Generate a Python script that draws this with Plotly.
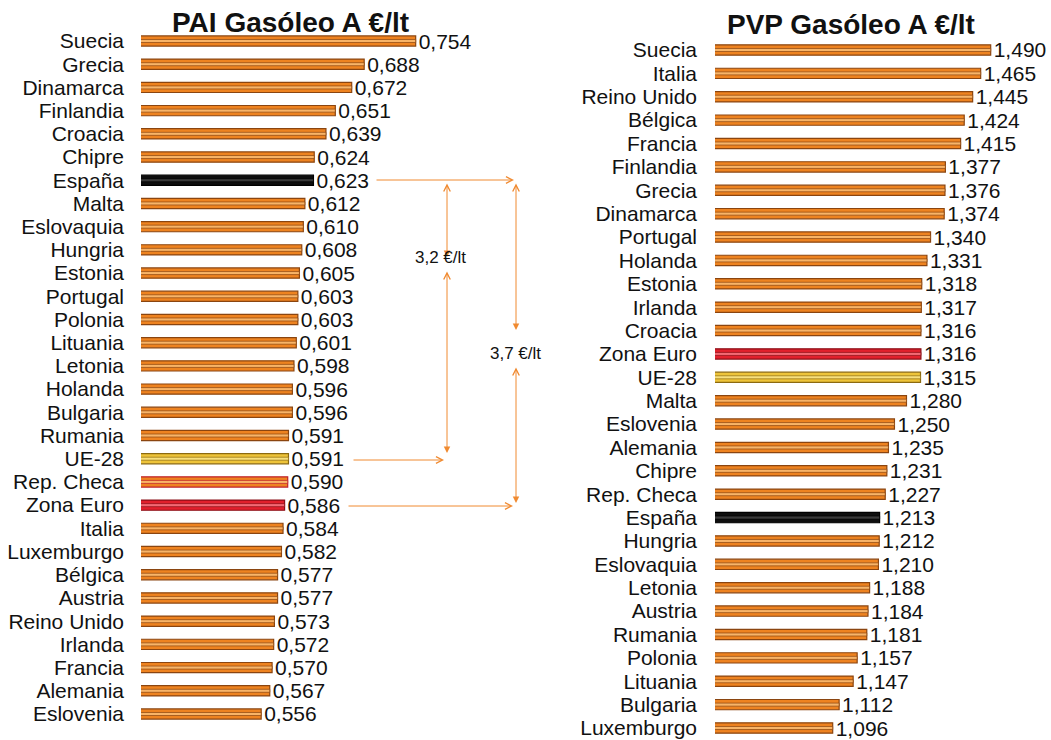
import plotly.graph_objects as go

# ---------------- data ----------------
pai_countries = ["Suecia", "Grecia", "Dinamarca", "Finlandia", "Croacia", "Chipre", "España",
                 "Malta", "Eslovaquia", "Hungria", "Estonia", "Portugal", "Polonia", "Lituania",
                 "Letonia", "Holanda", "Bulgaria", "Rumania", "UE-28", "Rep. Checa", "Zona Euro",
                 "Italia", "Luxemburgo", "Bélgica", "Austria", "Reino Unido", "Irlanda", "Francia",
                 "Alemania", "Eslovenia"]
pai_values = [0.754, 0.688, 0.672, 0.651, 0.639, 0.624, 0.623, 0.612, 0.610, 0.608, 0.605, 0.603,
              0.603, 0.601, 0.598, 0.596, 0.596, 0.591, 0.591, 0.590, 0.586, 0.584, 0.582, 0.577,
              0.577, 0.573, 0.572, 0.570, 0.567, 0.556]

pvp_countries = ["Suecia", "Italia", "Reino Unido", "Bélgica", "Francia", "Finlandia", "Grecia",
                 "Dinamarca", "Portugal", "Holanda", "Estonia", "Irlanda", "Croacia", "Zona Euro",
                 "UE-28", "Malta", "Eslovenia", "Alemania", "Chipre", "Rep. Checa", "España",
                 "Hungria", "Eslovaquia", "Letonia", "Austria", "Rumania", "Polonia", "Lituania",
                 "Bulgaria", "Luxemburgo"]
pvp_values = [1.490, 1.465, 1.445, 1.424, 1.415, 1.377, 1.376, 1.374, 1.340, 1.331, 1.318, 1.317,
              1.316, 1.316, 1.315, 1.280, 1.250, 1.235, 1.231, 1.227, 1.213, 1.212, 1.210, 1.188,
              1.184, 1.181, 1.157, 1.147, 1.112, 1.096]

titles = ["PAI Gasóleo A €/lt", "PVP Gasóleo A €/lt"]
diff_labels = ["3,2 €/lt", "3,7 €/lt"]

# ---------------- styles ----------------
W, H = 1051, 740
FONT = "Arial, Liberation Sans, sans-serif"
ORANGE_LINE = "#F08A30"

def styles(name):
    if name == "España":
        return "#0E0E0E", "#000000", "#3A3A3A"
    if name == "UE-28":
        return "#EEC43A", "#8C6A10", "#F8E07E"
    if name == "Zona Euro":
        return "#E2202C", "#8A0E16", "#F26A74"
    return "#EE8320", "#8A4510", "#F8B468"

def add_chart(fig, cats, vals, xa, ya, border_override=None):
    fills, lines, inner = [], [], []
    for c in cats:
        f, l, i = styles(c)
        if border_override and c in border_override:
            l = border_override[c]
        fills.append(f); lines.append(l); inner.append(i)
    texts = [f"{v:.3f}".replace(".", ",") for v in vals]
    fig.add_trace(go.Bar(
        y=cats, x=vals, orientation="h", width=0.44,
        marker=dict(color=fills, line=dict(color=lines, width=1.2)),
        text=texts, textposition="outside", constraintext="none", cliponaxis=False,
        textfont=dict(family=FONT, size=21, color="#111111"),
        xaxis=xa, yaxis=ya, showlegend=False, hoverinfo="skip"))
    fig.add_trace(go.Bar(
        y=cats, x=vals, orientation="h", width=0.13,
        marker=dict(color=inner, line=dict(color=lines, width=0.7)),
        xaxis=xa, yaxis=ya, showlegend=False, hoverinfo="skip"))

fig = go.Figure()
add_chart(fig, pai_countries, pai_values, "x", "y", border_override={"Rep. Checa": "#C0202A"})
add_chart(fig, pvp_countries, pvp_values, "x2", "y2")

def px(x):
    return x / W

def py(y):
    return 1 - y / H

ax_common = dict(showgrid=False, zeroline=False, showticklabels=False, showline=False, ticks="")
fig.update_layout(
    width=W, height=H, margin=dict(l=0, r=0, t=0, b=0),
    paper_bgcolor="white", plot_bgcolor="white", barmode="overlay",
    font=dict(family=FONT, color="#111111"),
    xaxis=dict(domain=[px(141), px(482)], range=[0.402, 0.839], **ax_common),
    xaxis2=dict(domain=[px(715), 1.0], range=[0.8025, 0.8025 + (1051 - 715) / 401], **ax_common),
    yaxis=dict(domain=[py(725.6), py(29.4)], anchor="x", categoryorder="array",
               categoryarray=pai_countries, range=[29.5, -0.5], showgrid=False, zeroline=False,
               showline=False, ticks="", ticklabelstandoff=16,
               tickmode="array", tickvals=pai_countries, ticktext=pai_countries,
               tickfont=dict(family=FONT, size=21, color="#111111")),
    yaxis2=dict(domain=[py(739.7), py(38.3)], anchor="x2", categoryorder="array",
                categoryarray=pvp_countries, range=[29.5, -0.5], showgrid=False, zeroline=False,
                showline=False, ticks="", ticklabelstandoff=17,
                tickmode="array", tickvals=pvp_countries, ticktext=pvp_countries,
                tickfont=dict(family=FONT, size=21, color="#111111")),
)

# titles
fig.add_annotation(x=px(290), y=py(22), xref="paper", yref="paper", text=f"<b>{titles[0]}</b>",
                   showarrow=False, xanchor="center", yanchor="middle",
                   font=dict(family=FONT, size=28, color="#111111"))
fig.add_annotation(x=px(851), y=py(24), xref="paper", yref="paper", text=f"<b>{titles[1]}</b>",
                   showarrow=False, xanchor="center", yanchor="middle",
                   font=dict(family=FONT, size=28, color="#111111"))

# difference arrows
def arrow(x0, y0, x1, y1, head=5, start=None):
    kw = dict(x=px(x1), y=py(y1), xref="paper", yref="paper", text="", showarrow=True,
              ax=x0 - x1, ay=y0 - y1, axref="pixel", ayref="pixel",
              arrowcolor=ORANGE_LINE, arrowwidth=1, arrowsize=1.3, arrowhead=head,
              standoff=0, startstandoff=0)
    if start is not None:
        kw.update(arrowside="end+start", startarrowhead=start, startarrowsize=1.3)
    fig.add_annotation(**kw)

arrow(375, 180, 514, 180, head=5)          # España ->
arrow(352, 460, 444, 460, head=5)          # UE-28 ->
arrow(347, 506, 513, 506, head=5)          # Zona Euro ->
arrow(447, 182, 447, 257, head=2, start=5)  # upper vertical 3,2
arrow(447, 270, 447, 453, head=2, start=5)  # lower vertical 3,2
arrow(516, 182, 516, 330, head=2, start=5)  # upper vertical 3,7
arrow(516, 366, 516, 503, head=2, start=5)  # lower vertical 3,7

fig.add_annotation(x=px(440), y=py(257), xref="paper", yref="paper", text=diff_labels[0],
                   showarrow=False, xanchor="center", yanchor="middle",
                   font=dict(family=FONT, size=17, color="#111111"))
fig.add_annotation(x=px(515), y=py(353), xref="paper", yref="paper", text=diff_labels[1],
                   showarrow=False, xanchor="center", yanchor="middle",
                   font=dict(family=FONT, size=17, color="#111111"))

fig.write_html("out.html", config={"displayModeBar": False},
               post_script="document.body.style.margin='0';document.body.style.overflow='hidden';")
